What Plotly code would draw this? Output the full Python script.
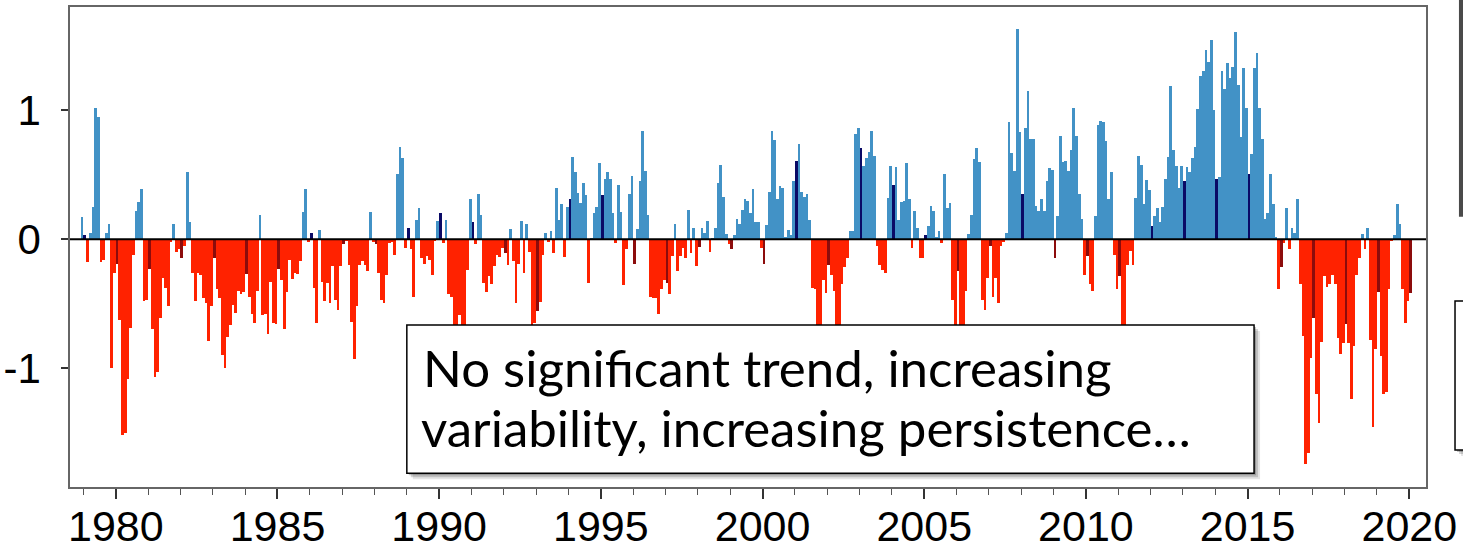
import plotly.graph_objects as go

# Monthly anomaly values (Dec 1978 .. Jan 2020)
dec_1978 = [0.17]
anom_1979_1983 = [
    0.03, -0.18, 0.05, 0.25, 1.02, 0.95, -0.18, -0.16, 0.05, 0.12, -1.00, -0.26,
    -0.19, -0.63, -1.52, -1.51, -1.09, -0.69, -0.12, 0.22, 0.29, 0.39, -0.48, -0.47,
    -0.23, -0.70, -1.07, -1.03, -0.61, -0.30, -0.38, -0.52, -0.02, 0.12, -0.10, -0.08,
    -0.15, -0.05, 0.52, 0.13, -0.26, -0.48, -0.26, -0.28, -0.46, -0.50, -0.79, -0.52,
    -0.15, -0.39, -0.46, -0.90, -1.00, -0.76, -0.67, -0.51, -0.57, -0.40, -0.43, -0.41,
]
anom_1984_1988 = [
    -0.27, -0.45, -0.58, -0.65, -0.40, 0.19, -0.59, -0.58, -0.74, -0.33, -0.65, -0.66,
    -0.23, -0.32, -0.70, -0.41, -0.16, -0.31, -0.26, -0.27, -0.17, 0.21, 0.39, -0.02,
    0.05, -0.38, -0.65, 0.07, -0.33, -0.48, -0.34, -0.50, -0.21, -0.47, -0.55, -0.21,
    -0.04, -0.01, -0.20, -0.64, -0.93, -0.52, -0.20, -0.17, -0.20, -0.25, 0.21, -0.02,
    -0.04, -0.26, -0.47, -0.50, -0.28, -0.03, -0.02, -0.12, 0.51, 0.72, 0.63, -0.07,
]
anom_1989_1993 = [
    0.09, -0.08, -0.45, 0.15, 0.24, -0.15, -0.19, -0.13, -0.16, -0.28, -0.01, 0.14,
    0.20, -0.03, 0.15, -0.43, -0.45, -0.85, -0.90, -0.59, -0.80, -0.75, -0.24, 0.31,
    0.13, -0.04, 0.35, 0.19, -0.34, -0.41, -0.29, -0.35, -0.21, -0.12, -0.14, -0.07,
    -0.11, -0.20, 0.08, -0.17, -0.50, -0.19, 0.14, -0.26, 0.12, -0.10, -0.70, -0.65,
    -0.56, -0.49, -0.12, 0.05, -0.02, 0.06, -0.11, 0.40, 0.15, 0.27, -0.14, 0.25,
]
anom_1994_1998 = [
    0.31, 0.64, 0.52, 0.36, 0.28, 0.44, 0.34, -0.34, 0.01, 0.20, 0.25, 0.59,
    0.34, 0.47, 0.52, 0.47, 0.20, -0.03, 0.42, 0.21, -0.36, -0.08, 0.35, 0.49,
    -0.19, 0.08, 0.45, 0.84, 0.53, 0.19, -0.45, -0.46, -0.46, -0.58, -0.39, -0.32,
    -0.34, -0.43, -0.13, 0.12, -0.25, -0.13, -0.07, -0.15, 0.23, -0.11, 0.09, -0.21,
    -0.06, 0.09, 0.05, 0.14, -0.10, 0.01, 0.09, 0.44, 0.58, 0.33, 0.04, -0.04,
]
anom_1999_2003 = [
    -0.08, 0.03, 0.16, 0.12, 0.23, 0.31, 0.30, 0.20, 0.39, 0.13, 0.13, -0.07,
    -0.19, 0.11, 0.37, 0.84, 0.77, 0.31, 0.41, 0.40, 0.02, 0.07, 0.03, 0.45,
    0.61, 0.74, 0.37, 0.33, 0.35, 0.15, -0.38, -0.39, -0.75, -0.70, -0.32, -0.42,
    -0.20, -0.28, -0.40, -0.80, -0.85, -0.35, -0.22, -0.15, 0.06, 0.06, 0.82, 0.86,
    0.71, 0.57, 0.63, 0.68, 0.84, 0.65, -0.05, -0.20, -0.24, -0.26, 0.32, 0.57,
]
anom_2004_2008 = [
    0.42, 0.56, 0.15, 0.29, 0.30, 0.59, 0.31, -0.07, 0.22, 0.09, -0.15, -0.15,
    0.03, 0.10, 0.26, 0.22, 0.02, 0.06, -0.03, 0.51, 0.24, 0.28, -0.47, -0.80,
    -0.25, -0.85, -0.90, -0.40, 0.04, 0.19, 0.62, 0.71, 0.60, -0.47, -0.55, -0.30,
    -0.05, -0.45, -0.30, -0.50, -0.05, -0.02, 0.05, 0.91, 0.67, 0.53, 1.63, 0.83,
    0.35, 0.86, 1.15, 0.78, 0.78, 0.26, 0.22, 0.31, 0.22, 0.45, 0.55, 0.54,
]
anom_2009_2013 = [
    -0.15, 0.18, 0.80, 0.60, 0.61, 0.53, 0.69, 1.02, 0.80, 0.35, 0.16, -0.28,
    -0.13, -0.35, -0.40, 0.18, 0.89, 0.92, 0.91, 0.76, 0.31, 0.52, -0.12, -0.39,
    -0.29, -0.75, -0.70, -0.20, -0.09, -0.20, 0.32, 0.65, 0.58, 0.27, 0.46, 0.38,
    0.10, 0.18, 0.24, 0.13, 0.25, 0.47, 0.64, 1.19, 0.69, 0.57, 0.40, 0.57,
    0.45, 0.56, 0.52, 0.63, 0.72, 1.01, 1.27, 1.31, 1.47, 1.38, 1.55, 1.00,
]
anom_2014_2019 = [
    0.47, 0.48, 1.31, 1.17, 1.37, 1.25, 1.34, 1.61, 1.20, 0.79, 1.33, 1.02,
    0.51, 0.66, 1.33, 1.45, 1.02, 0.78, 0.16, 0.20, 0.51, 0.27, 0.02, -0.39,
    -0.22, -0.03, 0.24, -0.08, 0.09, 0.05, 0.31, -0.35, -0.75, -1.75, -1.66, -0.92,
    -0.61, -1.20, -1.43, -0.80, -0.29, -0.37, -0.35, -0.28, -0.35, -0.77, -0.89, -0.81,
    -0.66, -0.81, -1.24, -0.83, -0.28, -0.15, 0.04, -0.08, 0.09, -0.78, -1.46, -0.85,
    -0.41, -0.91, -1.20, -1.19, -0.39, -0.01, 0.03, 0.27, 0.12, -0.39, -0.65, -0.48,
]
jan_2020 = [-0.42]

year_ticks = [1980, 1985, 1990, 1995, 2000, 2005, 2010, 2015, 2020]
value_ticks = [-1, 0, 1]
note_line1 = "No significant trend, increasing"
note_line2 = "variability, increasing persistence…"

values = (dec_1978 + anom_1979_1983 + anom_1984_1988 + anom_1989_1993 +
          anom_1994_1998 + anom_1999_2003 + anom_2004_2008 + anom_2009_2013 +
          anom_2014_2019 + jan_2020)

# decimal-year bar centres, starting December 1978
x, month = [], []
for i in range(len(values)):
    m0 = 11 + i
    yr, mo = 1978 + m0 // 12, m0 % 12
    x.append(yr + (mo + 0.5) / 12)
    month.append(mo + 1)

BLUE, NAVY, RED, DARKRED = "#4292c6", "#0a0a66", "#ff2200", "#8c0c0c"
colors = []
for v, mo in zip(values, month):
    if v >= 0:
        colors.append(NAVY if mo == 1 else BLUE)
    else:
        colors.append(DARKRED if mo == 1 else RED)

fig = go.Figure(go.Bar(x=x, y=values, width=1 / 12,
                       marker=dict(color=colors, line=dict(width=0))))

FONT = "Liberation Sans, Arial, Helvetica, sans-serif"
fig.update_layout(
    width=1463, height=549,
    margin=dict(l=70, r=37, t=7, b=62, autoexpand=False),
    paper_bgcolor="white", plot_bgcolor="white",
    bargap=0, showlegend=False,
    font=dict(family=FONT, size=42, color="black"),
)
fig.update_xaxes(
    range=[1978.584, 2020.516], automargin=False,
    tickvals=year_ticks, ticktext=[str(t) for t in year_ticks],
    ticks="outside", ticklen=10, tickwidth=1.5, tickcolor="#333",
    minor=dict(dtick=1, tick0=1980, ticks="outside", ticklen=6, tickwidth=1.2, tickcolor="#555"),
    showgrid=False, zeroline=False,
    showline=True, mirror=True, linecolor="#666", linewidth=1.5,
    tickfont=dict(family=FONT, size=43, color="black"),
    ticklabelstandoff=-9,
)
fig.update_yaxes(
    range=[-1.926, 1.804], automargin=False,
    tickvals=value_ticks, ticktext=[str(t) for t in value_ticks],
    ticks="outside", ticklen=7, tickwidth=1.5, tickcolor="#333",
    showgrid=False, zeroline=False,
    showline=True, mirror=True, linecolor="#666", linewidth=1.5,
    tickfont=dict(family=FONT, size=42, color="black"),
    ticklabelstandoff=12,
)

# zero line above bars
fig.add_shape(type="line", xref="paper", x0=0, x1=1, yref="y", y0=0, y1=0,
              line=dict(color="black", width=2), layer="above")

px_x = 1 / 1356.2
px_y = 1 / 479.7

def shadowed_box(x0, x1, y0, y1):
    for k, op in [(6, 0.10), (4, 0.16), (2, 0.22)]:
        fig.add_shape(type="rect", xref="paper", yref="paper",
                      x0=x0 + k * px_x, x1=x1 + k * px_x,
                      y0=y0 - k * px_y, y1=y1 - k * px_y,
                      line=dict(width=0), fillcolor=f"rgba(0,0,0,{op})", layer="above")
    fig.add_shape(type="rect", xref="paper", yref="paper", x0=x0, x1=x1, y0=y0, y1=y1,
                  line=dict(color="black", width=1.5), fillcolor="white", layer="above")

# annotation box
shadowed_box(0.2484, 0.8732, 0.0286, 0.3377)
# cut-off box at right edge of the slide
shadowed_box(1.0214, 1.06, 0.0771, 0.3877)
# cut-off dark bar at the right edge
fig.add_shape(type="rect", xref="paper", yref="paper", x0=1.0243, x1=1.04, y0=0.5629, y1=1.03,
              line=dict(width=0), fillcolor="#4a4a4a", layer="above")

NOTE_FONT = dict(family="Lato, Carlito, Calibri, sans-serif", size=51, color="black")
fig.add_annotation(xref="paper", yref="paper", x=0.2585, y=0.248, xanchor="left", yanchor="middle",
                   text=note_line1, showarrow=False, font=NOTE_FONT)
fig.add_annotation(xref="paper", yref="paper", x=0.2575, y=0.123, xanchor="left", yanchor="middle",
                   text=note_line2, showarrow=False, font=NOTE_FONT)

fig.write_html("out.html")
